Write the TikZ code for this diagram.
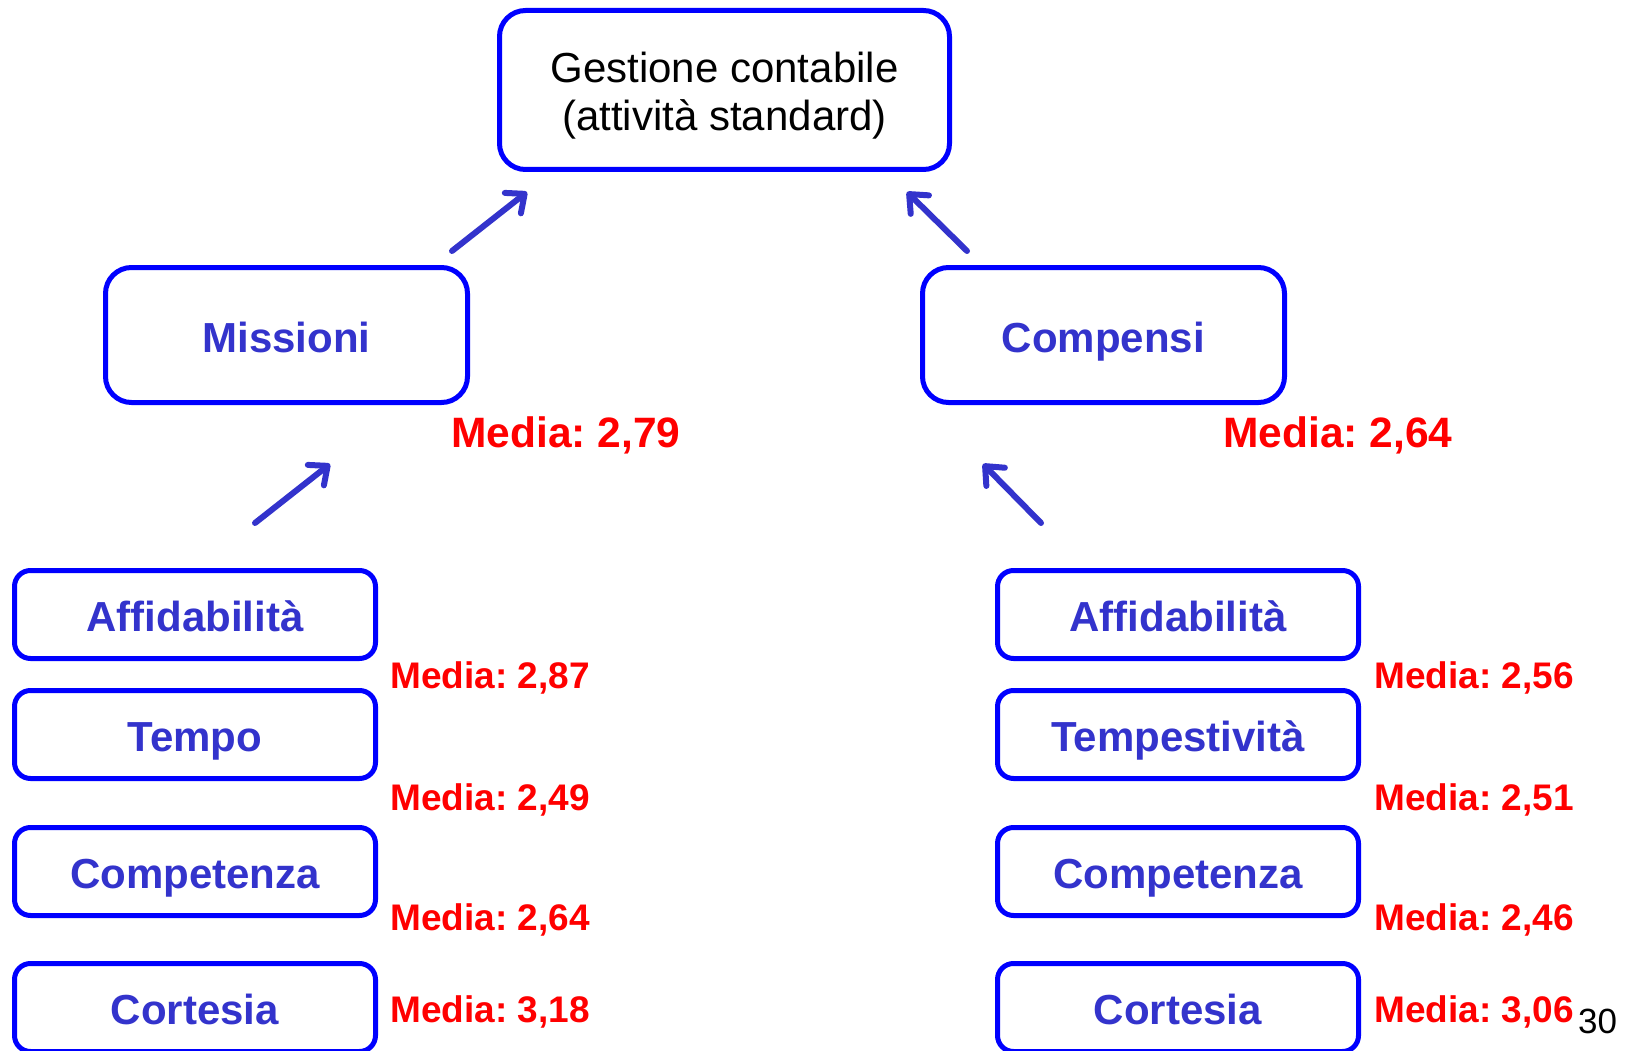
\documentclass[tikz,border=0pt]{standalone}
\usepackage{fontspec}
\setmainfont{Liberation Sans}
\frenchspacing
\usetikzlibrary{arrows.meta, positioning}
\definecolor{boxblue}{RGB}{0, 0, 255}
\definecolor{labelblue}{RGB}{51, 51, 204}
\definecolor{mediared}{RGB}{255, 0, 0}

\begin{document}
\begin{tikzpicture}[
        x=1pt, y=-1pt,
        box/.style={rectangle, rounded corners=26pt, draw=boxblue, line width=5pt,
                    fill=white, align=center, inner sep=0pt},
        topbox/.style={box, minimum width=450pt, minimum height=159pt,
                       font=\fontsize{42}{48}\selectfont},
        midbox/.style={box, minimum width=362pt, minimum height=135pt, text=labelblue,
                       text height=38pt, text depth=4pt,
                       font=\fontsize{42}{48}\selectfont\bfseries},
        subbox/.style={box, rounded corners=16pt, minimum width=361pt, minimum height=88pt,
                       text=labelblue, text height=38pt, text depth=4pt,
                       font=\fontsize{42}{48}\selectfont\bfseries},
        media/.style={anchor=base west, inner sep=0pt, text=mediared,
                      font=\fontsize{37}{40}\selectfont\bfseries},
        bigmedia/.style={media, font=\fontsize{42.5}{48}\selectfont\bfseries},
        arrow/.style={-{Straight Barb[length=15pt, width=26pt, round]}, line width=6pt,
                      draw=labelblue, line cap=round},
    ]
        \useasboundingbox (0,0) rectangle (1628,1051);

        \node[topbox] (gest) at (724.5,90) {\rule{0pt}{41pt}Gestione contabile\\(attività standard)};
        \node[midbox] (miss) at (286.5,335) {Missioni};
        \node[midbox] (comp) at (1103.5,335) {Compensi};

        \node[bigmedia] (mmiss) at (451,447) {Media: 2,79};
        \node[bigmedia] (mcomp) at (1223,447) {Media: 2,64};

        % Missioni
        \node[subbox] (aff1) at (195,614.5) {Affidabilità};
        \node[subbox, below=27pt of aff1] (tem1) {Tempo};
        \node[subbox, below=44pt of tem1] (cpt1) {Competenza};
        \node[subbox, below=43pt of cpt1] (cor1) {Cortesia};

        % Compensi
        \node[subbox] (aff2) at (1178,614.5) {Affidabilità};
        \node[subbox, below=27pt of aff2] (tem2) {Tempestività};
        \node[subbox, below=44pt of tem2] (cpt2) {Competenza};
        \node[subbox, below=43pt of cpt2] (cor2) {Cortesia};

        \node[media] (maff1) at (390,688) {Media: 2,87};
        \node[media] (mtem1) at (390,810) {Media: 2,49};
        \node[media] (mcpt1) at (390,930) {Media: 2,64};
        \node[media] (mcor1) at (390,1022) {Media: 3,18};
        \node[media] (maff2) at (1374,688) {Media: 2,56};
        \node[media] (mtem2) at (1374,810) {Media: 2,51};
        \node[media] (mcpt2) at (1374,930) {Media: 2,46};
        \node[media] (mcor2) at (1374,1022) {Media: 3,06};

        \node[anchor=base west, inner sep=0pt, font=\fontsize{35}{40}\selectfont] (pag) at (1578,1033) {30};

        \coordinate (a1s) at (452,251);
        \coordinate (a1e) at (527,192);
        \coordinate (a2s) at (967,251);
        \coordinate (a2e) at (907,192);
        \coordinate (a3s) at (255,523);
        \coordinate (a3e) at (330,464);
        \coordinate (a4s) at (1041,523);
        \coordinate (a4e) at (983,464);
        \draw[arrow] (a1s) -- (a1e);
        \draw[arrow] (a2s) -- (a2e);
        \draw[arrow] (a3s) -- (a3e);
        \draw[arrow] (a4s) -- (a4e);
    \end{tikzpicture}
\end{document}
